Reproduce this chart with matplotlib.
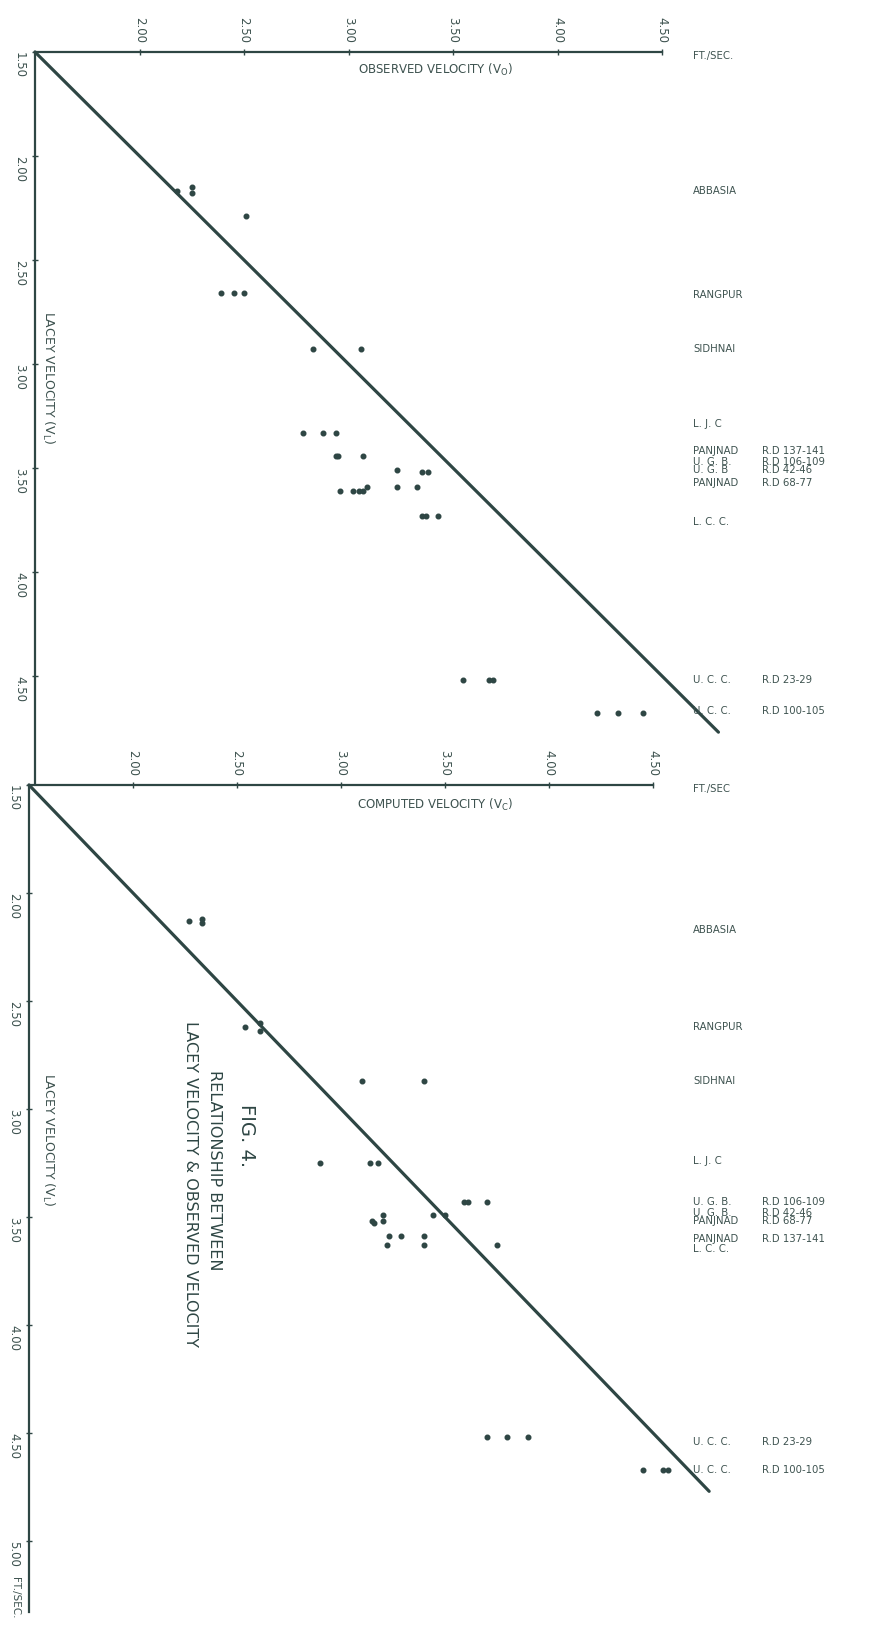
import matplotlib.pyplot as plt
import matplotlib.transforms as mtransforms

W, H = 871, 1625
INK = "#2e4644"
TXT = "#3d524f"

# observed velocity vs lacey velocity (ft/sec)
obs_vo = [2.18, 2.25, 2.25, 2.51,
          2.39, 2.45, 2.50,
          2.83, 3.06,
          2.78, 2.88, 2.94,
          2.94, 2.95, 3.07,
          3.23, 3.35, 3.38,
          2.96, 3.02, 3.05, 3.07, 3.09, 3.23, 3.33,
          3.35, 3.37, 3.43,
          3.55, 3.67, 3.69,
          4.19, 4.29, 4.41]
obs_vl = [2.17, 2.15, 2.18, 2.29,
          2.66, 2.66, 2.66,
          2.93, 2.93,
          3.33, 3.33, 3.33,
          3.44, 3.44, 3.44,
          3.51, 3.52, 3.52,
          3.61, 3.61, 3.61, 3.61, 3.59, 3.59, 3.59,
          3.73, 3.73, 3.73,
          4.52, 4.52, 4.52,
          4.68, 4.68, 4.68]

# computed velocity vs lacey velocity (ft/sec)
comp_vc = [2.27, 2.33, 2.33,
           2.54, 2.61, 2.61,
           3.10, 3.40,
           2.90, 3.14, 3.18,
           3.59, 3.61, 3.70,
           3.44, 3.50, 3.20,
           3.15, 3.16, 3.20,
           3.23, 3.29, 3.40,
           3.22, 3.40, 3.75,
           3.70, 3.80, 3.90,
           4.45, 4.55, 4.57]
comp_vl = [2.13, 2.12, 2.14,
           2.62, 2.60, 2.64,
           2.87, 2.87,
           3.25, 3.25, 3.25,
           3.43, 3.43, 3.43,
           3.49, 3.49, 3.49,
           3.52, 3.53, 3.52,
           3.59, 3.59, 3.59,
           3.63, 3.63, 3.63,
           4.52, 4.52, 4.52,
           4.67, 4.67, 4.67]

# line of equality
eq_line = [1.50, 4.77]

top_sites = ["ABBASIA", "RANGPUR", "SIDHNAI", "L. J. C",
             "PANJNAD", "U. G. B.", "U. G. B", "PANJNAD", "L. C. C.",
             "U. C. C.", "U. C. C."]
top_rd = ["", "", "", "", "R.D 137-141", "R.D 106-109", "R.D 42-46",
          "R.D 68-77", "", "R.D 23-29", "R.D 100-105"]
top_site_vl = [2.17, 2.67, 2.93, 3.29, 3.42, 3.47, 3.51, 3.57, 3.76, 4.52, 4.67]

bot_sites = ["ABBASIA", "RANGPUR", "SIDHNAI", "L. J. C",
             "U. G. B.", "U. G. B.", "PANJNAD", "PANJNAD", "L. C. C.",
             "U. C. C.", "U. C. C."]
bot_rd = ["", "", "", "", "R.D 106-109", "R.D 42-46", "R.D 68-77",
          "R.D 137-141", "", "R.D 23-29", "R.D 100-105"]
bot_site_vl = [2.17, 2.62, 2.87, 3.24, 3.43, 3.48, 3.52, 3.60, 3.65, 4.54, 4.67]

x_ticks = [2.00, 2.50, 3.00, 3.50, 4.00, 4.50]
top_y_ticks = [1.50, 2.00, 2.50, 3.00, 3.50, 4.00, 4.50]
bot_y_ticks = [1.50, 2.00, 2.50, 3.00, 3.50, 4.00, 4.50, 5.00]

plt.rcParams['font.family'] = ['DejaVu Sans']

fig = plt.figure(figsize=(W / 100, H / 100), dpi=100)
fig.patch.set_facecolor("white")


def px_axes(x0, y0, x1, y1):
    return fig.add_axes([x0 / W, 1 - y1 / H, (x1 - x0) / W, (y1 - y0) / H])


def setup(ax, xlim, ylim, yticks):
    ax.set_xlim(*xlim)
    ax.set_ylim(ylim[1], ylim[0])
    ax.patch.set_alpha(0)
    for s in ["right", "bottom"]:
        ax.spines[s].set_visible(False)
    ax.spines["top"].set_bounds(1.50, 4.50)
    for s in ["top", "left"]:
        ax.spines[s].set_color(INK)
        ax.spines[s].set_linewidth(1.6)
    ax.xaxis.tick_top()
    ax.set_xticks(x_ticks)
    ax.set_xticklabels(["%.2f" % v for v in x_ticks], rotation=-90)
    ax.set_yticks(yticks)
    ax.set_yticklabels(["%.2f" % v for v in yticks], rotation=-90, va="top")
    ax.tick_params(direction="inout", length=5, width=1, color=INK,
                   labelsize=8.5, labelcolor=TXT, pad=4)


def site_labels(ax, names, rds, vls):
    tr = mtransforms.blended_transform_factory(fig.transFigure, ax.transData)
    for name, rd, vl in zip(names, rds, vls):
        ax.text(693 / W, vl, name, transform=tr, fontsize=7.3, color=TXT,
                ha="left", va="center")
        if rd:
            ax.text(762 / W, vl, rd, transform=tr, fontsize=7.3, color=TXT,
                    ha="left", va="center")


# upper panel: observed velocity
ax1 = px_axes(35, 52, 35 + 3.4 * 209, 52 + 3.52 * 208)
setup(ax1, (1.50, 4.90), (1.50, 5.02), top_y_ticks)
ax1.plot(eq_line, eq_line, color=INK, lw=2.3, solid_capstyle="round", clip_on=False)
ax1.scatter(obs_vo, obs_vl, s=11, color=INK, zorder=3, clip_on=False)
site_labels(ax1, top_sites, top_rd, top_site_vl)

# lower panel: computed velocity
ax2 = px_axes(29, 785, 29 + 3.4 * 208, 785 + 3.83 * 216)
setup(ax2, (1.50, 4.90), (1.50, 5.33), bot_y_ticks)
ax2.plot(eq_line, eq_line, color=INK, lw=2.3, solid_capstyle="round", clip_on=False)
ax2.scatter(comp_vc, comp_vl, s=11, color=INK, zorder=3, clip_on=False)
site_labels(ax2, bot_sites, bot_rd, bot_site_vl)


def ftext(x, y, s, **kw):
    kw.setdefault("color", TXT)
    fig.text(x / W, 1 - y / H, s, **kw)


ftext(435, 70, r"OBSERVED VELOCITY (V$_\mathrm{O}$)", fontsize=8.5, ha="center", va="center")
ftext(435, 805, r"COMPUTED VELOCITY (V$_\mathrm{C}$)", fontsize=8.5, ha="center", va="center")
ftext(48, 378, r"LACEY VELOCITY (V$_\mathrm{L}$)", fontsize=9, ha="center", va="center", rotation=-90)
ftext(48, 1140, r"LACEY VELOCITY (V$_\mathrm{L}$)", fontsize=9, ha="center", va="center", rotation=-90)
ftext(693, 56, "FT./SEC.", fontsize=7.3, ha="left", va="center")
ftext(693, 789, "FT./SEC", fontsize=7.3, ha="left", va="center")
ftext(15, 1598, "FT./SEC.", fontsize=7.5, ha="center", va="center", rotation=-90)

ftext(246, 1136, "FIG. 4.", fontsize=14, ha="center", va="center", rotation=-90, color=INK)
ftext(214, 1170, "RELATIONSHIP BETWEEN", fontsize=11.5, ha="center", va="center", rotation=-90, color=INK)
ftext(190, 1184, "LACEY VELOCITY & OBSERVED VELOCITY", fontsize=11.5, ha="center", va="center", rotation=-90, color=INK)

fig.savefig("out.png", dpi=100)
